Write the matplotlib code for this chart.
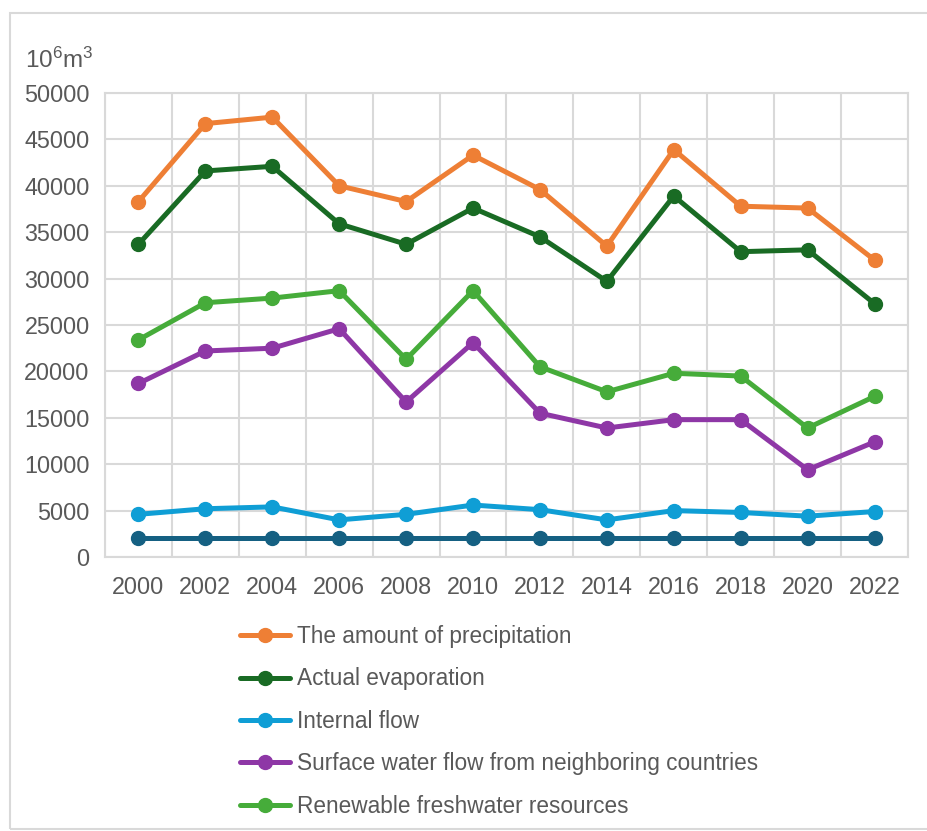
import matplotlib
matplotlib.use("Agg")
import matplotlib.pyplot as plt
from matplotlib.patches import Rectangle
from matplotlib.ticker import MultipleLocator, FixedLocator

plt.rcParams["font.family"] = ["Liberation Sans", "DejaVu Sans"]
plt.rcParams["mathtext.fontset"] = "custom"
plt.rcParams["mathtext.rm"] = "Liberation Sans"
plt.rcParams["mathtext.it"] = "Liberation Sans"

years = ["2000", "2002", "2004", "2006", "2008", "2010",
         "2012", "2014", "2016", "2018", "2020", "2022"]

precipitation = [38300, 46700, 47400, 40000, 38300, 43300,
                 39600, 33500, 43900, 37800, 37600, 32000]
evaporation = [33700, 41600, 42100, 35900, 33700, 37600,
               34500, 29700, 38900, 32900, 33100, 27300]
internal_flow = [4600, 5200, 5400, 4000, 4600, 5600,
                 5100, 4000, 5000, 4800, 4400, 4900]
neighbor_flow = [18700, 22200, 22500, 24600, 16700, 23100,
                 15500, 13900, 14800, 14800, 9400, 12400]
renewable = [23400, 27400, 27900, 28700, 21300, 28700,
             20500, 17800, 19800, 19500, 13900, 17300]
baseline = [2000] * 12

labels = ["The amount of precipitation", "Actual evaporation", "Internal flow",
          "Surface water flow from neighboring countries",
          "Renewable freshwater resources"]

TEXT = "#595959"
GRID = "#d9d9d9"

fig = plt.figure(figsize=(9.28, 8.31), dpi=100)
fig.patch.set_facecolor("white")

# outer frame
fig.patches.append(Rectangle((10 / 928, 1 - 829 / 831), 1.0, (829 - 13) / 831,
                             transform=fig.transFigure, fill=False,
                             edgecolor="#d9d9d9", linewidth=1.5))

ax = fig.add_axes([105 / 928, 1 - 557 / 831, (908 - 105) / 928, (557 - 93) / 831])
x = list(range(len(years)))

style = dict(linewidth=3.6, marker="o", markersize=10, solid_capstyle="round")
ax.plot(x, baseline, color="#156082", **style)
h_int = ax.plot(x, internal_flow, color="#0F9ED5", **style)[0]
h_nb = ax.plot(x, neighbor_flow, color="#8E37A6", **style)[0]
h_ren = ax.plot(x, renewable, color="#46AC3A", **style)[0]
h_ev = ax.plot(x, evaporation, color="#196B24", **style)[0]
h_pr = ax.plot(x, precipitation, color="#EE7F35", **style)[0]

ax.set_xlim(-0.5, len(years) - 0.5)
ax.set_ylim(0, 50000)
ax.yaxis.set_major_locator(MultipleLocator(5000))
ax.set_xticks(x)
ax.set_xticklabels(years)
ax.xaxis.set_minor_locator(FixedLocator([i + 0.5 for i in range(-1, len(years))]))
ax.grid(True, which="major", axis="y", color=GRID, linewidth=1.5)
ax.grid(True, which="minor", axis="x", color=GRID, linewidth=1.5)
ax.set_axisbelow(True)
for s in ax.spines.values():
    s.set_color(GRID)
    s.set_linewidth(1.5)
ax.tick_params(axis="both", which="both", length=0, labelsize=16.8, colors=TEXT)
ax.tick_params(axis="y", pad=11)
ax.tick_params(axis="x", pad=14)

fig.text(25 / 928, 1 - 60 / 831, r"10$^6$m$^3$", fontsize=17.5, color=TEXT,
         ha="left", va="center")

leg = fig.legend([h_pr, h_ev, h_int, h_nb, h_ren], labels,
                 loc="upper left", bbox_to_anchor=(240 / 928, 1 - 625 / 831),
                 frameon=False, fontsize=16.3, handlelength=2.2, handletextpad=0.3,
                 labelspacing=0.86, borderpad=0, borderaxespad=0)
for t in leg.get_texts():
    t.set_color(TEXT)

fig.savefig("out.png", dpi=100, facecolor="white")
